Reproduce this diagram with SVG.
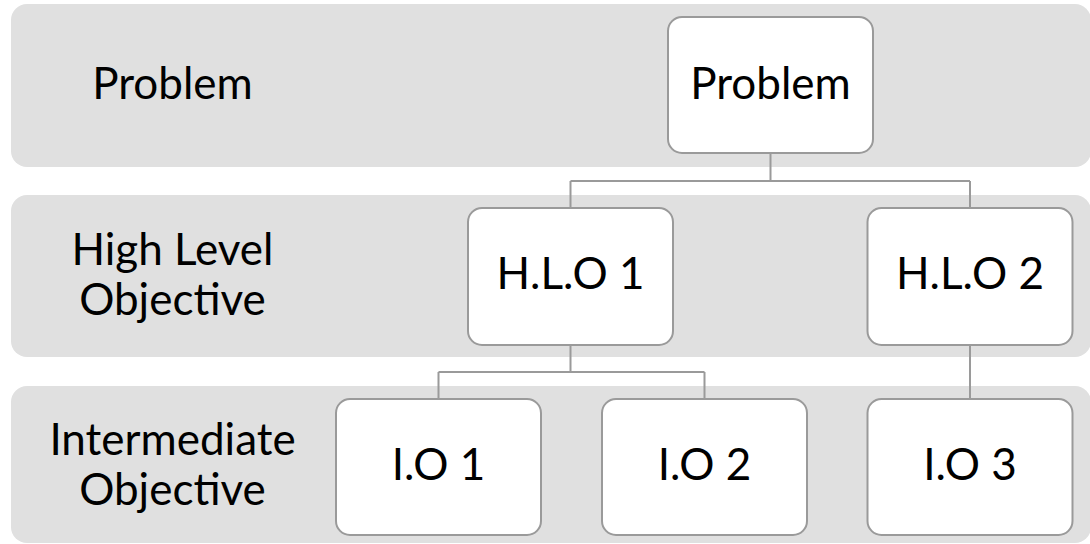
<svg xmlns="http://www.w3.org/2000/svg" width="1090" height="544" viewBox="0 0 1090 544">
  <style>
    .band { fill: #e0e0e0; }
    .box { fill: #ffffff; stroke: #9a9a9a; stroke-width: 2; }
    .wire { fill: none; stroke: #9a9a9a; stroke-width: 2; }
    text { font-family: Lato, "Open Sans", "Liberation Sans", sans-serif; font-size: 44px; fill: #000000; text-anchor: middle; }
  </style>
  <rect width="1090" height="544" fill="#ffffff"/>

  <!-- level bands with row titles -->
  <g id="band-problem">
    <rect class="band" x="11" y="4" width="1080" height="163" rx="16"/>
    <text x="172.5" y="99">Problem</text>
  </g>
  <g id="band-high-level">
    <rect class="band" x="11" y="195" width="1080" height="162" rx="16"/>
    <text x="172.5" y="265">High Level</text>
    <text x="172.5" y="315">Objective</text>
  </g>
  <g id="band-intermediate">
    <rect class="band" x="11" y="386" width="1080" height="157" rx="16"/>
    <text x="172.5" y="455">Intermediate</text>
    <text x="172.5" y="505">Objective</text>
  </g>

  <!-- tree connectors -->
  <g id="connectors">
    <path class="wire" d="M770.5 153 V181 M570.5 181 H970 M570.5 181 V208 M970 181 V208"/>
    <path class="wire" d="M570.5 345 V372 M438.5 372 H704.5 M438.5 372 V399 M704.5 372 V399"/>
    <path class="wire" d="M970 345 V399"/>
  </g>

  <!-- nodes -->
  <g id="node-problem">
    <rect class="box" x="668" y="17" width="205" height="136" rx="14"/>
    <text x="770.5" y="99">Problem</text>
  </g>
  <g id="node-hlo1">
    <rect class="box" x="468" y="208" width="205" height="137" rx="14"/>
    <text x="570.5" y="289">H.L.O 1</text>
  </g>
  <g id="node-hlo2">
    <rect class="box" x="867.5" y="208" width="205" height="137" rx="14"/>
    <text x="970" y="289">H.L.O 2</text>
  </g>
  <g id="node-io1">
    <rect class="box" x="336" y="399" width="205" height="136" rx="14"/>
    <text x="438.5" y="480">I.O 1</text>
  </g>
  <g id="node-io2">
    <rect class="box" x="602" y="399" width="205" height="136" rx="14"/>
    <text x="704.5" y="480">I.O 2</text>
  </g>
  <g id="node-io3">
    <rect class="box" x="867.5" y="399" width="205" height="136" rx="14"/>
    <text x="970" y="480">I.O 3</text>
  </g>
</svg>
